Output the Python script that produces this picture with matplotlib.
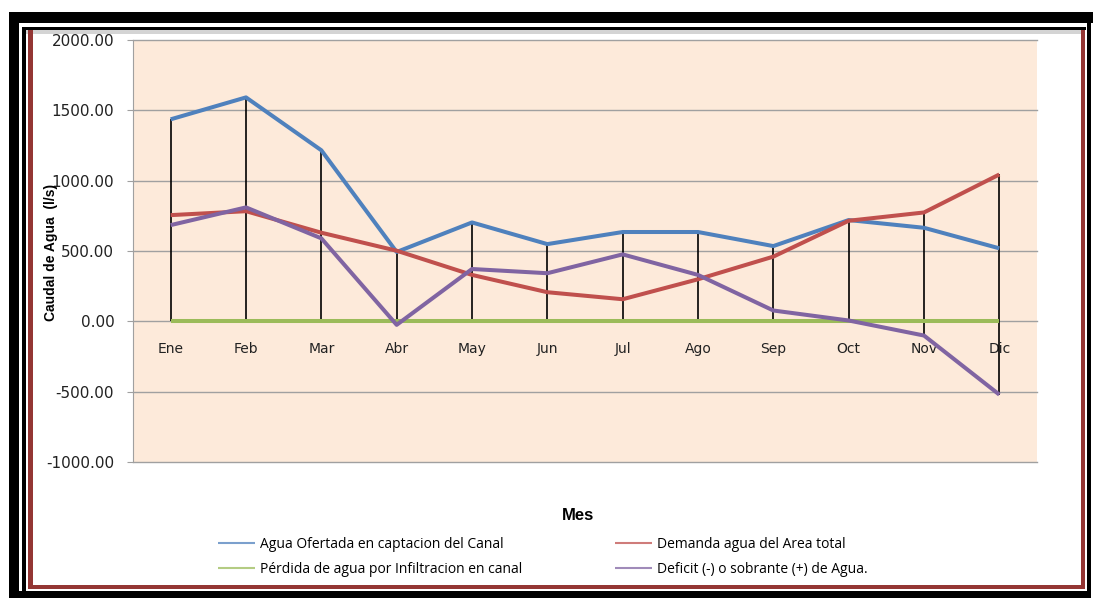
import numpy as np
import matplotlib
matplotlib.use("Agg")
import matplotlib.pyplot as plt
from matplotlib.patches import Rectangle

W, H = 1093, 601

meses = ["Ene", "Feb", "Mar", "Abr", "May", "Jun", "Jul", "Ago", "Sep", "Oct", "Nov", "Dic"]
ofertada = [1436, 1592, 1216, 493, 703, 549, 635, 635, 535, 720, 665, 519]
demanda = [755, 783, 630, 502, 330, 207, 157, 299, 460, 715, 774, 1044]
perdida = [0, 0, 0, 0, 0, 0, 0, 0, 0, 0, 0, 0]
deficit = [684, 810, 590, -25, 372, 342, 476, 330, 77, 6, -101, -521]

series = [
    ("Agua Ofertada en captacion del Canal", ofertada, "#4F81BD"),
    ("Demanda agua del Area total", demanda, "#C0504D"),
    ("Pérdida de agua por Infiltracion en canal", perdida, "#9BBB59"),
    ("Deficit (-) o sobrante (+) de Agua.", deficit, "#8064A2"),
]

fig = plt.figure(figsize=(W / 100, H / 100), dpi=100)
fig.patch.set_facecolor("white")

# pixel box helper for the frame around the chart
def box(x0, y0, x1, y1, color, z=0):
    fig.add_artist(Rectangle((x0 / W, 1 - y1 / H), (x1 - x0) / W, (y1 - y0) / H,
                             transform=fig.transFigure, facecolor=color,
                             edgecolor="none", zorder=z))

box(9, 12, 1093, 23, "black")
box(9, 12, 19, 598, "black")
box(9, 591, 1091, 598, "black")
box(1087, 12, 1091, 598, "black")
box(22, 27, 1086, 30, "black")
box(22, 27, 26, 591, "black")
box(26, 30, 1081, 34, "#d4d4d4")
box(28, 30, 33, 589, "#943634")
box(1081, 30, 1085, 589, "#943634")
box(28, 585, 1085, 589, "#943634")

ax = fig.add_axes([133 / W, 1 - 462 / H, (1037 - 133) / W, (462 - 40) / H])
ax.set_facecolor("#FDEADA")

x = np.arange(len(meses))
data = np.array([s[1] for s in series], dtype=float)

# high-low lines
ax.vlines(x, data.min(axis=0), data.max(axis=0), color="black", lw=1.2, zorder=2)

for name, vals, col in series:
    ax.plot(x, vals, color=col, lw=2.9, label=name, zorder=3, solid_capstyle="butt")

ax.set_xlim(-0.5, len(meses) - 0.5)
ax.set_ylim(-1000, 2000)
ax.set_yticks(np.arange(-1000, 2001, 500))
ax.yaxis.set_major_formatter(matplotlib.ticker.FormatStrFormatter("%.2f"))
ax.grid(axis="y", color="#A0A0A0", lw=1.0, zorder=1)
ax.set_axisbelow(True)
for gl in ax.get_ygridlines():
    gl.set_clip_on(False)

ax.set_xticks(x)
ax.set_xticklabels(meses)
ax.spines["bottom"].set_position(("data", 0))
ax.spines["bottom"].set_visible(False)
ax.spines["top"].set_visible(False)
ax.spines["right"].set_visible(False)
ax.spines["left"].set_color("#A0A0A0")
ax.tick_params(axis="x", length=0, pad=15, labelsize=10, labelcolor="#222222")
ax.tick_params(axis="y", length=4.5, color="#A0A0A0", pad=9, labelsize=11, labelcolor="#222222")

fig.text(51 / W, 1 - 252 / H, "Caudal de Agua  (l/s)", rotation=90, ha="center", va="center",
         fontsize=10, fontweight="bold", family="Liberation Sans")
fig.text(578 / W, 1 - 516 / H, "Mes", ha="center", va="center",
         fontsize=12, fontweight="bold", family="Liberation Sans")

handles, labels = ax.get_legend_handles_labels()
order = [0, 2, 1, 3]
leg = fig.legend([handles[i] for i in order], [labels[i] for i in order], ncol=2,
                 loc="upper left", bbox_to_anchor=(218 / W, 1 - 537 / H),
                 frameon=False, prop={"family": "Open Sans", "size": 10},
                 handlelength=2.66, handletextpad=0.36, columnspacing=6.7,
                 labelspacing=0.69, borderpad=0, borderaxespad=0)
for ln in leg.get_lines():
    ln.set_linewidth(1.5)
    ln.set_alpha(0.75)

fig.savefig("out.png", dpi=100)
